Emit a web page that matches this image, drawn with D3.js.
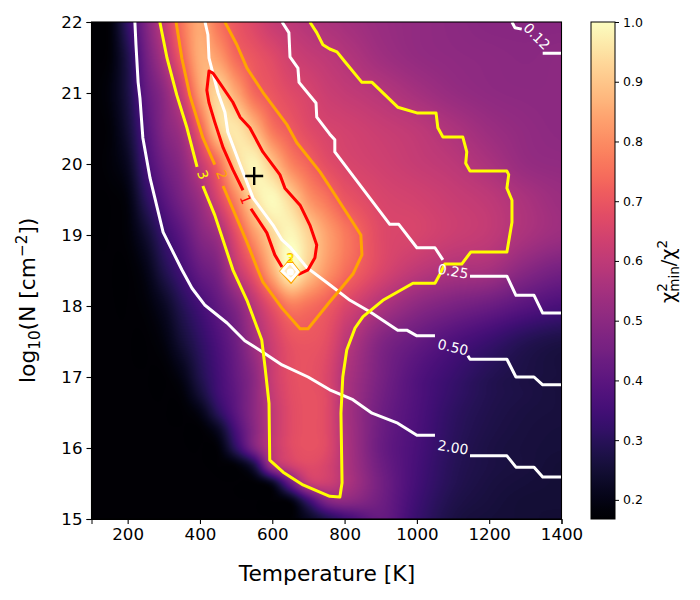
<!DOCTYPE html>
<html>
<head>
<meta charset="utf-8">
<script src="https://cdn.jsdelivr.net/npm/d3@7"></script>
<style>
  body { margin: 0; background: #fff; }
  text { font-family: "DejaVu Sans", sans-serif; fill: #000; }
</style>
</head>
<body>
<div id="chart"></div>
<script>
// model grid, chi2min/chi2
const tempGrid = [100,150,200,250,300,350,400,450,500,550,600,650,700,750,800,900,1000,1100,1200,1300,1400];
const logNGrid = [15,15.25,15.5,15.75,16,16.25,16.5,16.75,17,17.5,18,18.5,19,19.5,20,20.5,21,21.5,22];

const chi1500 = [.17,.17,.17,.17,.17,.17,.17,.17,.17,.17,.17,.17,.22,.28,.34,.42,.33,.27,.255,.25,.245];
const chi1525 = [.17,.17,.17,.17,.17,.17,.17,.17,.17,.17,.17,.19,.33,.47,.50,.44,.34,.28,.26,.25,.25];
const chi1550 = [.17,.17,.17,.17,.17,.17,.17,.17,.17,.17,.22,.42,.60,.625,.57,.45,.35,.29,.265,.255,.25];
const chi1575 = [.17,.17,.17,.17,.17,.17,.17,.17,.18,.27,.54,.63,.67,.65,.57,.44,.355,.295,.27,.26,.25];
const chi1600 = [.17,.17,.17,.17,.17,.17,.17,.18,.31,.47,.60,.67,.69,.67,.57,.43,.36,.30,.27,.26,.255];
const chi1625 = [.17,.17,.17,.17,.17,.17,.17,.22,.36,.49,.60,.67,.69,.67,.565,.435,.365,.305,.275,.262,.257];
const chi1650 = [.17,.17,.17,.17,.17,.17,.20,.30,.40,.50,.60,.67,.69,.67,.56,.44,.37,.31,.28,.265,.26];
const chi1675 = [.17,.17,.17,.17,.17,.18,.25,.34,.41,.50,.61,.675,.69,.67,.565,.45,.375,.32,.285,.27,.26];
const chi1700 = [.17,.17,.17,.17,.17,.20,.28,.35,.42,.50,.62,.68,.69,.66,.57,.46,.38,.33,.29,.27,.26];
const chi1750 = [.17,.17,.17,.17,.19,.25,.31,.37,.44,.54,.63,.69,.70,.68,.60,.48,.42,.37,.33,.29,.27];
const chi1800 = [.17,.17,.17,.18,.22,.29,.35,.41,.48,.59,.69,.77,.75,.715,.66,.57,.50,.46,.43,.39,.36];
const chi1850 = [.17,.17,.17,.20,.28,.35,.42,.47,.60,.71,.86,1.0,.91,.82,.75,.66,.60,.565,.55,.49,.45];
const chi1900 = [.17,.17,.18,.24,.33,.40,.48,.54,.68,.82,.93,.99,.925,.84,.77,.67,.65,.625,.605,.56,.53];
const chi1950 = [.17,.17,.19,.30,.39,.46,.53,.65,.79,.94,.995,.93,.82,.76,.70,.655,.64,.62,.60,.56,.53];
const chi2000 = [.17,.18,.22,.35,.44,.50,.61,.74,.92,.985,.90,.79,.73,.68,.655,.635,.615,.595,.56,.52,.51];
const chi2050 = [.17,.18,.25,.38,.48,.55,.72,.92,.96,.88,.76,.71,.67,.65,.64,.62,.60,.565,.53,.51,.50];
const chi2100 = [.17,.19,.27,.41,.50,.63,.83,.93,.85,.74,.70,.67,.65,.625,.61,.585,.55,.52,.505,.50,.50];
const chi2150 = [.17,.18,.28,.44,.565,.72,.86,.83,.74,.70,.67,.635,.615,.60,.58,.54,.515,.505,.50,.495,.50];
const chi2200 = [.17,.18,.32,.47,.61,.76,.85,.76,.70,.66,.62,.60,.58,.565,.55,.525,.51,.50,.49,.49,.49];
const chiRows = [chi1500,chi1525,chi1550,chi1575,chi1600,chi1625,chi1650,chi1675,chi1700,chi1750,chi1800,chi1850,chi1900,chi1950,chi2000,chi2050,chi2100,chi2150,chi2200];

// contours, null = gap for the inline label
const tau200T = [220,223,229,234,242,262,298,350,378,414,475,524,574,627,699,759,823,876,947,1000,1050,null,1147,1249,1274,1324,1348,1400];
const tau200N = [22,21.68,21.15,20.93,20.37,19.8,19.04,18.51,18.25,18.01,17.76,17.51,17.35,17.17,17,16.82,16.68,16.49,16.35,16.18,16.18,null,15.89,15.89,15.73,15.73,15.59,15.59];
const tau050T = [414,422,425,450,469,477,511,547,602,627,649,696,759,815,870,947,972,1000,1050,null,1141,1147,1249,1274,1324,1348,1400];
const tau050N = [22,21.82,21.49,21,20.73,20.45,19.99,19.52,19.14,18.93,18.83,18.54,18.3,18.08,17.92,17.66,17.66,17.58,17.58,null,17.3,17.25,17.25,17,17,16.89,16.89];
const tau025T = [627,646,649,671,674,721,723,759,773,773,925,950,1000,1050,1072,null,1147,1249,1274,1324,1348,1400];
const tau025N = [22,21.85,21.51,21.35,21.15,20.86,20.66,20.42,20.34,20.17,19.15,19.15,18.82,18.82,18.65,null,18.42,18.42,18.15,18.15,17.9,17.9];
const tau012T = [1263,1271,1290,null,1348,1400];
const tau012N = [22,21.92,21.9,null,21.56,21.56];

const sigma1T = [519,491,464,441,425,419,425,436,455,491,511,538,574,621,635,677,704,723,718,699,671,null,541,585,607,627];
const sigma1N = [19.63,19.92,20.23,20.59,20.86,21.04,21.31,21.28,21.14,20.87,20.66,20.51,20.17,19.85,19.66,19.42,19.14,18.86,18.68,18.51,18.44,null,19.37,19.03,18.72,18.55];
const sigma2T = [334,350,372,408,441,null,464,530,560,574,627,677,699,759,787,823,848,845,815,759,732,668,641,574,530,502,469];
const sigma2N = [22,21.49,20.97,20.37,19.99,null,19.69,18.9,18.51,18.34,17.97,17.68,17.68,18.06,18.23,18.45,18.72,19,19.24,19.68,19.89,20.3,20.55,21.01,21.35,21.68,22];
const sigma3T = [289,309,336,364,392,null,408,441,491,530,571,580,591,593,630,685,759,787,793,790,795,806,829,851,906,989,1050,1064,1077,1124,1149,1249,1263,1263,1249,1254,1249,1147,1135,1138,1127,1072,1058,1053,1000,947,876,848,801,779,759,740,723,704];
const sigma3N = [22,21.49,20.97,20.51,19.96,null,19.69,19.28,18.51,18.08,17.52,17.14,16.63,15.83,15.66,15.48,15.32,15.31,15.51,16.49,17,17.38,17.69,17.85,18.08,18.32,18.32,18.45,18.59,18.59,18.76,18.76,19.18,19.49,19.66,19.85,19.9,19.9,20.01,20.17,20.38,20.38,20.51,20.72,20.72,20.8,21.15,21.15,21.44,21.58,21.62,21.68,21.85,22];

// little closed island round the second minimum
const islandOuterT = [649,677,652,621,649];
const islandOuterN = [18.66,18.48,18.32,18.49,18.66];
const islandInnerT = [649,671,652,627,649];
const islandInnerN = [18.62,18.48,18.37,18.49,18.62];

const bestT = [550];
const bestN = [19.83];
const xTicks = [200,400,600,800,1000,1200,1400];
const yTicks = [15,16,17,18,19,20,21,22];
const barTicks = [0.2,0.3,0.4,0.5,0.6,0.7,0.8,0.9,1.0];
const chiMin = 0.168;

const margin = { left: 91.5, top: 22, right: 138.5, bottom: 81 };
const width = 700 - margin.left - margin.right;
const height = 600 - margin.top - margin.bottom;

const x = d3.scaleLinear().domain([100, 1400]).range([0, width]);
const y = d3.scaleLinear().domain([15, 22]).range([height, 0]);

const svg = d3.select("#chart").append("svg").attr("width", 700).attr("height", 600);
const g = svg.append("g").attr("transform", `translate(${margin.left},${margin.top})`);

// heatmap: bicubic sampling of the grid, same as imshow does
const colIndex = d3.scaleLinear().domain(tempGrid).range(d3.range(tempGrid.length));
const rowIndex = d3.scaleLinear().domain(logNGrid).range(d3.range(logNGrid.length));
const lut = d3.range(256).map((i) => d3.rgb(d3.interpolateMagma(i / 255)));

const cubic = (p0, p1, p2, p3, t) =>
  p1 + 0.5 * t * (p2 - p0 + t * (2 * p0 - 5 * p1 + 4 * p2 - p3 + t * (3 * (p1 - p2) + p3 - p0)));

const sample = (c, r) => {
  const c0 = Math.min(Math.floor(c), tempGrid.length - 2);
  const r0 = Math.min(Math.floor(r), logNGrid.length - 2);
  const vals = [-1, 0, 1, 2].map((dr) => {
    const row = chiRows[Math.max(0, Math.min(logNGrid.length - 1, r0 + dr))];
    const at = (i) => row[Math.max(0, Math.min(tempGrid.length - 1, c0 + i))];
    return cubic(at(-1), at(0), at(1), at(2), c - c0);
  });
  return cubic(vals[0], vals[1], vals[2], vals[3], r - r0);
};

const w = Math.round(width);
const h = Math.round(height);
const canvas = document.createElement("canvas");
canvas.width = w;
canvas.height = h;
const ctx = canvas.getContext("2d");
const img = ctx.createImageData(w, h);
for (let j = 0; j < h; j++) {
  const r = rowIndex(y.invert(j + 0.5));
  for (let i = 0; i < w; i++) {
    const v = sample(colIndex(x.invert(i + 0.5)), r);
    const k = Math.max(0, Math.min(255, Math.round(((v - chiMin) / (1 - chiMin)) * 255)));
    const o = (j * w + i) * 4;
    img.data[o] = lut[k].r;
    img.data[o + 1] = lut[k].g;
    img.data[o + 2] = lut[k].b;
    img.data[o + 3] = 255;
  }
}
ctx.putImageData(img, 0, 0);

g.append("image")
  .attr("width", width)
  .attr("height", height)
  .attr("preserveAspectRatio", "none")
  .attr("href", canvas.toDataURL());

g.append("clipPath").attr("id", "plot-clip").append("rect").attr("width", width).attr("height", height);
const marks = g.append("g").attr("clip-path", "url(#plot-clip)");

const line = d3.line()
  .defined((d) => d[0] !== null)
  .x((d) => x(d[0]))
  .y((d) => y(d[1]));

const drawContour = (ts, ns, stroke, sw) => {
  marks.append("path")
    .datum(ts.map((t, i) => [t, ns[i]]))
    .attr("d", line)
    .attr("fill", "none")
    .attr("stroke", stroke)
    .attr("stroke-width", sw)
    .attr("stroke-linejoin", "round");
};

drawContour(tau200T, tau200N, "#fff", 3);
drawContour(tau050T, tau050N, "#fff", 3);
drawContour(tau025T, tau025N, "#fff", 3);
drawContour(tau012T, tau012N, "#fff", 3);
drawContour(sigma3T, sigma3N, "#ffff00", 3);
drawContour(sigma2T, sigma2N, "#ffa500", 3);
drawContour(sigma1T, sigma1N, "#ff0000", 3);

// island
drawContour(islandOuterT, islandOuterN, "#ffa500", 1.2);
marks.append("path")
  .datum(islandInnerT.map((t, i) => [t, islandInnerN[i]]))
  .attr("d", line)
  .attr("fill", "#ffecc0")
  .attr("stroke", "#fff")
  .attr("stroke-width", 3);
marks.append("circle")
  .attr("cx", x(650))
  .attr("cy", y(18.48))
  .attr("r", 3.5)
  .attr("fill", "#fff");

const drawLabel = (txt, t, n, rot, fill, size) => {
  marks.append("text")
    .attr("transform", `translate(${x(t)},${y(n)}) rotate(${rot})`)
    .attr("text-anchor", "middle")
    .attr("dominant-baseline", "central")
    .style("fill", fill)
    .style("font-size", size + "px")
    .text(txt);
};

drawLabel("3", 408, 19.85, 70, "#ffff00", 13.9);
drawLabel("2", 461, 19.85, 70, "#ffa500", 13.9);
drawLabel("1", 527, 19.5, 68, "#ff0000", 13.9);
drawLabel("2", 650, 18.67, 0, "#ffa500", 13.9);
drawLabel("3", 650, 18.67, 0, "#ffff00", 11);
drawLabel("0.25", 1100, 18.49, 10, "#fff", 13.9);
drawLabel("0.50", 1100, 17.42, 13, "#fff", 13.9);
drawLabel("2.00", 1100, 16.01, 9, "#fff", 13.9);
drawLabel("0.12", 1332, 21.8, 45, "#fff", 13.9);

// best fit
marks.selectAll(".best")
  .data(bestT.map((t, i) => [t, bestN[i]]))
  .join("path")
  .attr("class", "best")
  .attr("transform", (d) => `translate(${x(d[0])},${y(d[1])})`)
  .attr("d", "M-9,0H9M0,-9V9")
  .attr("stroke", "#000")
  .attr("stroke-width", 2.4);

// axes
const xAxis = g.append("g")
  .attr("transform", `translate(0,${height})`)
  .call(d3.axisBottom(x).tickValues(xTicks).tickFormat(d3.format("d")).tickSize(5).tickPadding(4));
const yAxis = g.append("g")
  .call(d3.axisLeft(y).tickValues(yTicks).tickFormat(d3.format("d")).tickSize(5).tickPadding(4));
xAxis.selectAll("text").style("font-size", "16.67px").style("font-family", '"DejaVu Sans"');
yAxis.selectAll("text").style("font-size", "16.67px").style("font-family", '"DejaVu Sans"');
xAxis.selectAll("line").attr("stroke-width", 1.1);
yAxis.selectAll("line").attr("stroke-width", 1.1);

g.append("rect")
  .attr("width", width)
  .attr("height", height)
  .attr("fill", "none")
  .attr("stroke", "#000")
  .attr("stroke-width", 1.1);

// axis titles
svg.append("text")
  .attr("x", 327)
  .attr("y", 581)
  .attr("text-anchor", "middle")
  .style("font-size", "21.8px")
  .text("Temperature [K]");

const yTitle = svg.append("text")
  .attr("transform", "translate(35,383) rotate(-90)")
  .style("font-size", "21.8px");
yTitle.append("tspan").text("log");
yTitle.append("tspan").attr("dy", 5).style("font-size", "15.2px").text("10");
yTitle.append("tspan").attr("dy", -5).text("(N [cm");
yTitle.append("tspan").attr("dy", -8).style("font-size", "15.2px").text("\u22122");
yTitle.append("tspan").attr("dy", 8).text("])");

// colorbar
const barX = 591;
const barW = 24;
const barScale = d3.scaleLinear().domain([chiMin, 1]).range([height, 0]);
const barG = svg.append("g").attr("transform", `translate(${barX},${margin.top})`);

const grad = svg.append("defs").append("linearGradient")
  .attr("id", "bar-gradient")
  .attr("x1", 0).attr("y1", 1).attr("x2", 0).attr("y2", 0);
grad.selectAll("stop")
  .data(d3.range(0, 1.001, 0.02))
  .join("stop")
  .attr("offset", (d) => d)
  .attr("stop-color", (d) => d3.interpolateMagma(d));

barG.append("rect")
  .attr("width", barW)
  .attr("height", height)
  .attr("fill", "url(#bar-gradient)")
  .attr("stroke", "#000")
  .attr("stroke-width", 1);

const barAxis = barG.append("g")
  .attr("transform", `translate(${barW},0)`)
  .call(d3.axisRight(barScale).tickValues(barTicks).tickFormat(d3.format(".1f")).tickSize(4).tickPadding(4));
barAxis.select(".domain").remove();
barAxis.selectAll("text").style("font-size", "12.5px").style("font-family", '"DejaVu Sans"');

const barTitle = svg.append("text")
  .attr("transform", "translate(675,303) rotate(-90)")
  .style("font-size", "19.4px");
barTitle.append("tspan").text("\u03c7");
barTitle.append("tspan").attr("dy", -8).style("font-size", "13.6px").text("2");
barTitle.append("tspan").attr("dy", 12).attr("dx", -8.7).style("font-size", "13.6px").text("min");
barTitle.append("tspan").attr("dy", -4).text("/\u03c7");
barTitle.append("tspan").attr("dy", -8).style("font-size", "13.6px").text("2");
</script>
</body>
</html>
